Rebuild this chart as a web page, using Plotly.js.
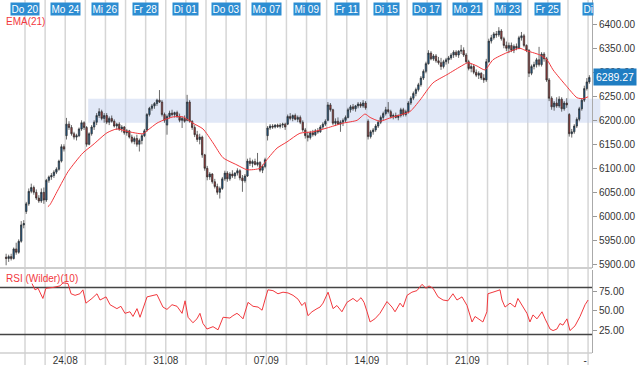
<!DOCTYPE html>
<html>
<head>
<meta charset="utf-8">
<script src="https://cdn.plot.ly/plotly-3.0.1.min.js"></script>
<style>html,body{margin:0;padding:0;background:#fff;}#chart{width:640px;height:365px;}</style>
</head>
<body>
<div id="chart"></div>
<script>
// ---- data (x positions in trading-day units; day 0 = Mi 19) ----
const perDay = 8;
const topLabelDays = [1,3,5,7,9,11,13,15,17,19,21,23,25,27,29];
const topLabels = ['Do 20','Mo 24','Mi 26','Fr 28','Di 01','Do 03','Mo 07','Mi 09','Fr 11','Di 15','Do 17','Mo 21','Mi 23','Fr 25','Di'];
const gridDays = [1,2,3,4,5,6,7,8,9,10,11,12,13,14,15,16,17,18,19,20,21,22,23,24,25,26,27,28,29];
const bottomTickDays = [3,8,13,18,23,28.85];
const bottomTickText = ['24.08','31.08','07.09','14.09','21.09','-'];
const priceTicks = [5900,5950,6000,6050,6100,6150,6200,6250,6300,6350,6400];
const rsiTicks = [25,50,75];
const lastPrice = 6289.27;

const open = [
5915,5912,5916,5912,5932,5925,5948,5982,
6010,6026,6052,6060,6050,6038,6032,6050,
6034,6075,6082,6085,6092,6098,6115,6145,
6168,6192,6185,6172,6165,6168,6182,6195,
6185,6150,6172,6186,6196,6210,6218,6204,
6210,6196,6204,6198,6188,6192,6182,6186,
6174,6178,6165,6156,6162,6150,6158,6168,
6180,6212,6225,6230,6235,6242,6238,6212,
6190,6208,6215,6212,6216,6208,6200,6204,
6200,6238,6198,6185,6170,6160,6165,6128,
6100,6082,6088,6072,6062,6050,6058,6078,
6090,6078,6088,6084,6090,6095,6080,6074,
6084,6115,6110,6114,6108,6112,6096,6104,
6168,6184,6188,6186,6190,6187,6190,6192,
6192,6208,6204,6210,6202,6206,6196,6180,
6168,6164,6174,6170,6178,6176,6186,6192,
6200,6232,6222,6194,6198,6192,6196,6200,
6206,6222,6228,6224,6230,6234,6230,6236,
6198,6166,6176,6180,6188,6196,6206,6214,
6222,6218,6208,6210,6206,6210,6222,6212,
6218,6236,6246,6256,6264,6274,6288,6302,
6318,6340,6328,6334,6324,6320,6312,6322,
6326,6330,6336,6342,6336,6344,6346,6336,
6322,6308,6312,6300,6294,6298,6288,6284,
6322,6365,6372,6380,6378,6386,6370,6356,
6350,6356,6346,6354,6350,6372,6376,6356,
6346,6298,6312,6316,6326,6316,6338,6328,
6284,6246,6228,6236,6230,6244,6224,6236,
6212,6172,6176,6188,6202,6224,6242,6266,
6280];
const high = [
5922,5920,5922,5935,5945,5952,5990,5992,
6030,6058,6068,6064,6056,6044,6058,6060,
6078,6085,6090,6096,6102,6118,6150,6150,
6205,6198,6190,6176,6172,6185,6200,6198,
6188,6175,6190,6200,6215,6225,6222,6215,
6215,6208,6210,6202,6195,6196,6190,6188,
6182,6180,6170,6166,6170,6162,6172,6182,
6215,6228,6234,6238,6245,6263,6242,6216,
6212,6220,6222,6218,6220,6214,6208,6210,
6253,6242,6200,6190,6178,6172,6168,6130,
6105,6092,6090,6078,6068,6062,6082,6095,
6094,6092,6096,6092,6100,6098,6086,6088,
6120,6122,6118,6120,6132,6115,6108,6122,
6188,6192,6192,6192,6193,6194,6195,6195,
6212,6215,6212,6214,6210,6210,6200,6184,
6176,6178,6180,6182,6184,6190,6196,6202,
6238,6236,6224,6204,6206,6200,6204,6210,
6226,6232,6234,6232,6238,6238,6242,6240,
6202,6180,6184,6192,6200,6210,6218,6228,
6238,6222,6214,6216,6212,6226,6226,6222,
6240,6250,6260,6268,6278,6292,6306,6322,
6346,6344,6338,6338,6332,6330,6326,6330,
6334,6340,6346,6346,6346,6357,6352,6340,
6326,6318,6316,6306,6302,6300,6296,6328,
6370,6378,6384,6386,6394,6390,6374,6364,
6362,6362,6358,6360,6376,6384,6380,6358,
6348,6316,6322,6330,6353,6342,6342,6332,
6288,6250,6240,6248,6250,6248,6240,6246,
6215,6182,6192,6206,6228,6246,6272,6288,
6294];
const low = [
5898,5905,5908,5910,5920,5922,5945,5975,
6005,6022,6048,6045,6034,6028,6028,6026,
6030,6070,6076,6080,6088,6095,6112,6135,
6160,6180,6168,6160,6158,6165,6178,6180,
6145,6148,6168,6180,6190,6205,6200,6195,
6192,6190,6195,6185,6180,6178,6175,6170,
6168,6162,6152,6150,6145,6135,6150,6165,
6176,6208,6220,6224,6230,6236,6208,6195,
6170,6204,6208,6206,6205,6196,6184,6195,
6198,6195,6180,6165,6155,6150,6122,6095,
6075,6076,6068,6058,6045,6037,6055,6074,
6072,6074,6080,6078,6085,6075,6051,6070,
6082,6105,6102,6106,6104,6092,6090,6100,
6158,6180,6182,6183,6184,6183,6184,6180,
6190,6200,6198,6200,6196,6192,6176,6162,
6156,6160,6166,6167,6172,6174,6182,6188,
6198,6218,6190,6188,6190,6176,6188,6196,
6204,6216,6220,6218,6225,6226,6226,6222,
6160,6162,6170,6176,6184,6192,6200,6210,
6214,6204,6202,6204,6200,6206,6208,6208,
6214,6232,6242,6250,6260,6270,6284,6298,
6316,6325,6324,6320,6316,6305,6308,6316,
6318,6326,6330,6332,6330,6338,6332,6318,
6304,6300,6296,6290,6286,6284,6278,6280,
6320,6360,6368,6372,6374,6366,6350,6344,
6340,6342,6340,6346,6348,6366,6352,6342,
6290,6294,6306,6310,6312,6312,6322,6280,
6240,6222,6220,6226,6226,6218,6220,6226,
6166,6164,6172,6184,6198,6220,6238,6262,
6276];
const close = [
5912,5916,5912,5932,5925,5948,5982,5985,
6026,6052,6060,6050,6038,6032,6050,6034,
6075,6082,6085,6092,6098,6115,6145,6140,
6192,6185,6172,6165,6168,6182,6195,6185,
6150,6172,6186,6196,6210,6218,6204,6210,
6196,6204,6198,6188,6192,6182,6186,6174,
6178,6165,6156,6162,6150,6158,6168,6178,
6212,6225,6230,6235,6242,6238,6212,6200,
6208,6215,6212,6216,6208,6200,6204,6198,
6238,6198,6185,6170,6160,6165,6128,6100,
6082,6088,6072,6062,6050,6058,6078,6090,
6078,6088,6084,6090,6095,6080,6074,6084,
6115,6110,6114,6108,6112,6096,6104,6118,
6184,6188,6186,6190,6187,6190,6192,6186,
6208,6204,6210,6202,6206,6196,6180,6168,
6164,6174,6170,6178,6176,6186,6192,6198,
6232,6222,6194,6198,6192,6196,6200,6206,
6222,6228,6224,6230,6234,6230,6236,6226,
6166,6176,6180,6188,6196,6206,6214,6222,
6218,6208,6210,6206,6210,6222,6212,6218,
6236,6246,6256,6264,6274,6288,6302,6318,
6340,6328,6334,6324,6320,6312,6322,6326,
6330,6336,6342,6336,6344,6346,6336,6322,
6308,6312,6300,6294,6298,6288,6284,6322,
6365,6372,6380,6378,6386,6370,6356,6350,
6356,6346,6354,6350,6372,6376,6356,6346,
6298,6312,6316,6326,6316,6338,6328,6284,
6246,6228,6236,6230,6244,6224,6236,6232,
6172,6176,6188,6202,6224,6242,6266,6280,
6289.27];

const emaX = [2.14,2.24,2.64,3.14,3.88,4.38,5.08,5.57,6.07,6.87,7.12,7.56,7.86,8.36,8.86,9.35,9.85,10.35,10.85,11.54,12.04,12.68,13.03,13.53,14.03,14.67,15.32,16.02,16.81,17.51,17.91,18.16,18.65,19.15,19.65,20.14,20.64,21.29,21.98,22.78,23.03,23.48,23.87,24.27,24.97,25.61,25.86,26.61,26.96,27.26,27.95,28.45,28.75,29.00];
const emaY = [6020,6024,6055,6093,6132,6149,6174,6182,6177,6172,6180,6194,6200,6207,6207,6194,6182,6153,6122,6107,6097,6100,6118,6142,6155,6173,6176,6184,6194,6200,6213,6206,6198,6205,6211,6218,6242,6278,6295,6315,6320,6313,6305,6326,6341,6350,6346,6336,6326,6305,6270,6247,6245,6249];

const rsiX = [1.35,1.50,1.65,1.89,2.04,2.39,2.74,2.89,3.14,3.29,3.49,3.73,3.88,4.03,4.33,4.58,4.73,5.03,5.23,5.57,5.77,5.97,6.22,6.37,6.57,6.72,7.07,7.56,7.86,8.06,8.31,8.56,8.81,8.96,9.11,9.35,9.55,9.70,9.85,10.05,10.35,10.60,10.85,11.19,11.34,11.54,11.69,11.84,12.09,12.34,12.59,12.79,12.93,13.08,13.33,13.58,13.83,14.08,14.33,14.58,14.77,14.92,15.07,15.27,15.52,15.67,15.82,16.07,16.32,16.51,16.76,17.01,17.31,17.51,17.71,17.86,18.01,18.16,18.40,18.65,19.00,19.25,19.40,19.65,19.80,20.00,20.24,20.49,20.74,20.94,21.09,21.29,21.54,21.79,22.03,22.28,22.48,22.73,22.98,23.23,23.38,23.53,23.77,23.97,24.02,24.27,24.62,24.72,24.87,25.12,25.37,25.51,25.71,25.96,26.11,26.26,26.46,26.71,26.86,27.11,27.26,27.45,27.60,27.75,27.95,28.10,28.35,28.60,28.85,29.00];
const rsiY = [85,77,79,66,79,80,82,86,85,72,70,72,77,60,66,72,64,68,58,53,56,47,49,43,53,42,68,71,55,52,58,56,47,63,42,35,40,47,34,27,30,26,42,41,44,47,44,40,61,56,55,51,64,77,76,72,74,73,70,65,57,61,44,49,53,55,60,74,53,57,49,61,66,62,67,61,49,36,40,47,62,55,49,60,55,70,74,76,84,79,82,79,68,64,63,72,64,68,57,36,43,40,36,49,72,74,77,64,55,60,55,66,57,47,36,45,40,49,40,27,25,27,34,32,40,25,31,43,58,64];
const rsiBands = [80,20];
const zoneLow = 6195, zoneHigh = 6245;

// ---- build ----
const candleX = close.map((_, i) => Math.floor(i / perDay) + ((i % perDay) + 0.5) / perDay);
const FONT = 'Liberation Sans, Arial, sans-serif';
const RED = '#f2383d';

const traces = [
  {
    type: 'candlestick', x: candleX, open: open, high: high, low: low, close: close,
    xaxis: 'x', yaxis: 'y', hoverinfo: 'skip', whiskerwidth: 0,
    increasing: {fillcolor: '#1d5b8e', line: {color: '#2b2b2b', width: 0.7}},
    decreasing: {fillcolor: '#a53c3c', line: {color: '#2b2b2b', width: 0.7}}
  },
  {type: 'scatter', mode: 'lines', x: emaX, y: emaY, xaxis: 'x', yaxis: 'y',
   line: {color: RED, width: 1, shape: 'spline', smoothing: 0.6}, hoverinfo: 'skip'},
  {type: 'scatter', mode: 'lines', x: rsiX, y: rsiY, xaxis: 'x', yaxis: 'y2',
   line: {color: RED, width: 1}, hoverinfo: 'skip'}
];

const H = 353; // plot height in px (height - bottom margin)
const priceDomain = [(H - 268) / H, 1];
const rsiDomain = [0, (H - 270) / H];

const shapes = [];
gridDays.forEach(d => shapes.push({type: 'line', xref: 'x', yref: 'paper', x0: d, x1: d, y0: -12 / H, y1: 1,
  line: {color: '#d6d6d6', width: 1.5}, layer: 'below'}));
shapes.push({type: 'rect', xref: 'paper', yref: 'y', x0: 0.149, x1: 1.014, y0: zoneLow, y1: zoneHigh,
  fillcolor: 'rgba(200,214,240,0.55)', line: {width: 0}, layer: 'below'});
rsiBands.forEach(v => shapes.push({type: 'line', xref: 'paper', yref: 'y2', x0: 0, x1: 1, y0: v, y1: v,
  line: {color: '#444', width: 1.5}, layer: 'below'}));
shapes.push({type: 'line', xref: 'paper', yref: 'paper', x0: 0, x1: 1, y0: priceDomain[0], y1: priceDomain[0],
  line: {color: '#cfcfcf', width: 2}});
shapes.push({type: 'line', xref: 'paper', yref: 'paper', x0: 0, x1: 1, y0: 0, y1: 0,
  line: {color: '#cfcfcf', width: 1.5}});

const annotations = [];
topLabelDays.forEach((d, i) => annotations.push({x: d, xref: 'x', y: 1, yref: 'paper', yanchor: 'top', yshift: -2,
  text: topLabels[i], showarrow: false, bgcolor: '#2d8dd2', borderpad: 0.5,
  font: {family: FONT, size: 10, color: '#ffffff'}}));
annotations.push({x: 0.006, xref: 'paper', xanchor: 'left', y: (H - 21) / H, yref: 'paper', yanchor: 'middle',
  text: 'EMA(21)', showarrow: false, font: {family: FONT, size: 10, color: RED}});
annotations.push({x: 0.006, xref: 'paper', xanchor: 'left', y: (H - 278) / H, yref: 'paper', yanchor: 'middle',
  text: 'RSI (Wilder)(10)', showarrow: false, font: {family: FONT, size: 10, color: RED}});
annotations.push({x: 1, xref: 'paper', xanchor: 'left', xshift: 1, y: lastPrice, yref: 'y', yanchor: 'middle',
  text: lastPrice.toFixed(2), showarrow: false, bgcolor: '#1f7dc2', borderpad: 2,
  font: {family: FONT, size: 10.5, color: '#ffffff'}});

const layout = {
  width: 640, height: 365,
  margin: {l: 0, r: 48, t: 0, b: 12},
  paper_bgcolor: '#ffffff', plot_bgcolor: 'rgba(0,0,0,0)',
  showlegend: false, dragmode: false, boxgap: 0.2,
  font: {family: FONT, size: 10, color: '#333'},
  xaxis: {domain: [0, 1], range: [-0.243, 29.195], anchor: 'y2', tickmode: 'array',
    tickvals: bottomTickDays, ticktext: bottomTickText, ticks: '', showgrid: false, zeroline: false,
    showline: false, rangeslider: {visible: false}, tickfont: {family: FONT, size: 10, color: '#333'}, fixedrange: true},
  yaxis: {domain: priceDomain, range: [5892.3, 6450.6], side: 'right', anchor: 'x', tickmode: 'array',
    tickvals: priceTicks, tickformat: '.2f', ticks: 'outside', ticklen: 4, tickcolor: '#999',
    showline: true, linecolor: '#aaa', linewidth: 1, showgrid: false, zeroline: false,
    tickfont: {family: FONT, size: 10, color: '#333'}, fixedrange: true},
  yaxis2: {domain: rsiDomain, range: [-3.6, 102.3], side: 'right', anchor: 'x', tickmode: 'array',
    tickvals: rsiTicks, tickformat: '.2f', ticks: 'outside', ticklen: 4, tickcolor: '#999',
    showline: true, linecolor: '#aaa', linewidth: 1, showgrid: false, zeroline: false,
    tickfont: {family: FONT, size: 10, color: '#333'}, fixedrange: true},
  shapes: shapes,
  annotations: annotations
};

Plotly.newPlot('chart', traces, layout, {displayModeBar: false, staticPlot: true});
</script>
</body>
</html>
